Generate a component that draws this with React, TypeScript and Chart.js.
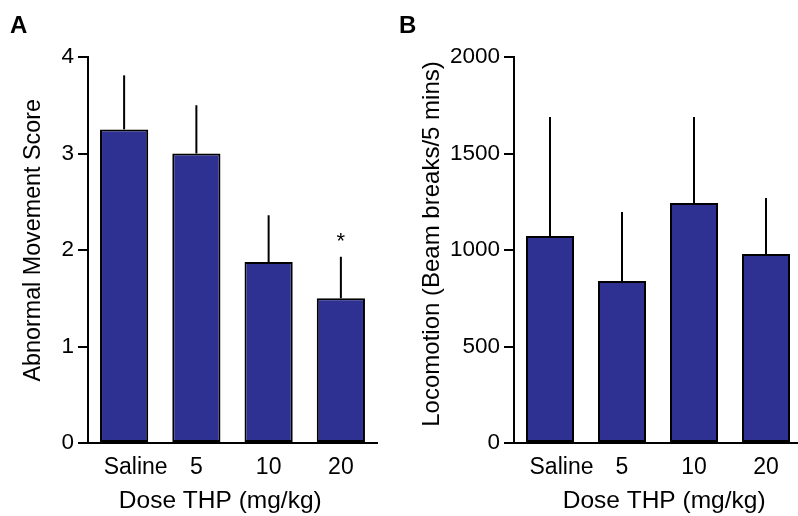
import React, { useEffect, useRef } from "react";
import { Chart, registerables } from "chart.js";

Chart.register(...registerables);

const FONT = "'Liberation Sans', Arial, sans-serif";

// ---- data ----
const doseLabels = ["Saline", "5", "10", "20"];
const xTitle = "Dose THP (mg/kg)";

const abnormalMean = [3.25, 3.0, 1.875, 1.5];
const abnormalErr = [0.56, 0.5, 0.485, 0.43];
const abnormalMarks = ["", "", "", "*"];
const abnormalTicks = [0, 1, 2, 3, 4];
const abnormalTitle = "Abnormal Movement Score";

const locoMean = [1072, 839, 1244, 979];
const locoErr = [617, 358, 445, 290];
const locoMarks = ["", "", "", ""];
const locoTicks = [0, 500, 1000, 1500, 2000];
const locoTitle = "Locomotion (Beam breaks/5 mins)";

const BAR_COLOR = "#2E3192";

function makeErrorPlugin(means: number[], errs: number[], marks: string[]) {
  return {
    id: "errorBars",
    afterDatasetsDraw(chart: any) {
      const { ctx } = chart;
      const meta = chart.getDatasetMeta(0);
      const y = chart.scales.y;
      ctx.save();
      ctx.strokeStyle = "#000";
      ctx.lineWidth = 2;
      meta.data.forEach((bar: any, i: number) => {
        const y0 = y.getPixelForValue(means[i]);
        const y1 = y.getPixelForValue(means[i] + errs[i]);
        ctx.beginPath();
        ctx.moveTo(bar.x, y0);
        ctx.lineTo(bar.x, y1);
        ctx.stroke();
        if (marks[i]) {
          ctx.fillStyle = "#000";
          ctx.font = `22px ${FONT}`;
          ctx.textAlign = "center";
          ctx.textBaseline = "alphabetic";
          ctx.fillText(marks[i], bar.x, y1 - 9);
        }
      });
      ctx.restore();
    },
  };
}

function makeConfig(
  means: number[],
  errs: number[],
  marks: string[],
  ticks: number[],
  yTitle: string,
  yTitleSize: number,
  xTitleText: string,
  yWidth: number,
  rightPad: number,
  yTitlePad: number
): any {
  return {
    type: "bar",
    data: {
      labels: doseLabels,
      datasets: [
        {
          data: means,
          backgroundColor: BAR_COLOR,
          borderColor: "#000",
          borderWidth: 2,
          borderSkipped: false,
          categoryPercentage: 1,
          barPercentage: 0.667,
        },
      ],
    },
    plugins: [makeErrorPlugin(means, errs, marks)],
    options: {
      responsive: false,
      animation: false,
      layout: { padding: { left: 0, right: rightPad, top: 57, bottom: 0 } },
      plugins: { legend: { display: false }, tooltip: { enabled: false } },
      scales: {
        x: {
          type: "category",
          offset: true,
          grid: { display: false, drawTicks: false },
          border: { display: true, color: "#000", width: 2 },
          ticks: {
            color: "#000",
            font: { family: FONT, size: 23 },
            padding: 11,
            maxRotation: 0,
            autoSkip: false,
            callback: (_v: any, i: number) =>
              i === 0 ? "\u2002\u2002" + doseLabels[i] : doseLabels[i],
          },
          title: {
            display: true,
            text: xTitleText,
            color: "#000",
            font: { family: FONT, size: 24.5 },
            padding: { top: 0, bottom: 0 },
          },
          afterFit: (s: any) => {
            s.height = 73;
          },
        },
        y: {
          min: ticks[0],
          max: ticks[ticks.length - 1],
          afterBuildTicks: (s: any) => {
            s.ticks = ticks.map((v) => ({ value: v }));
          },
          ticks: {
            color: "#000",
            font: { family: FONT, size: 22.5 },
            padding: 4,
            callback: (v: any) => String(v),
          },
          grid: {
            display: true,
            drawOnChartArea: false,
            drawTicks: true,
            tickLength: 10,
            tickColor: "#000",
            lineWidth: 2,
          },
          border: { display: true, color: "#000", width: 2 },
          title: {
            display: true,
            text: yTitle,
            color: "#000",
            font: { family: FONT, size: yTitleSize },
            padding: { top: yTitlePad, bottom: 0 },
          },
          afterFit: (s: any) => {
            s.width = yWidth;
          },
        },
      },
    },
  };
}

function Panel(props: {
  left: number;
  width: number;
  config: any;
  letter: string;
  letterLeft: number;
}) {
  const ref = useRef<HTMLCanvasElement | null>(null);
  useEffect(() => {
    if (!ref.current) return;
    const chart = new Chart(ref.current, props.config);
    return () => chart.destroy();
  }, []);
  return (
    <>
      <canvas
        ref={ref}
        width={props.width}
        height={516}
        style={{
          position: "absolute",
          left: props.left,
          top: 0,
          width: props.width,
          height: 516,
        }}
      />
      <div
        style={{
          position: "absolute",
          left: props.letterLeft,
          top: 13,
          font: `bold 24px ${FONT}`,
          lineHeight: "24px",
          color: "#000",
        }}
      >
        {props.letter}
      </div>
    </>
  );
}

export default function App() {
  const configA = makeConfig(
    abnormalMean,
    abnormalErr,
    abnormalMarks,
    abnormalTicks,
    "\u2007 " + abnormalTitle,
    23.3,
    xTitle + "\u2002\u2002",
    88,
    23,
    20
  );
  const configB = makeConfig(
    locoMean,
    locoErr,
    locoMarks,
    locoTicks,
    "\u2002" + locoTitle,
    24,
    "\u2002" + xTitle,
    114,
    18,
    18
  );
  return (
    <div
      style={{
        position: "fixed",
        left: 0,
        top: 0,
        width: 798,
        height: 516,
        overflow: "hidden",
        background: "#fff",
      }}
    >
      <Panel left={0} width={400} config={configA} letter="A" letterLeft={10} />
      <Panel left={400} width={420} config={configB} letter="B" letterLeft={399} />
    </div>
  );
}
